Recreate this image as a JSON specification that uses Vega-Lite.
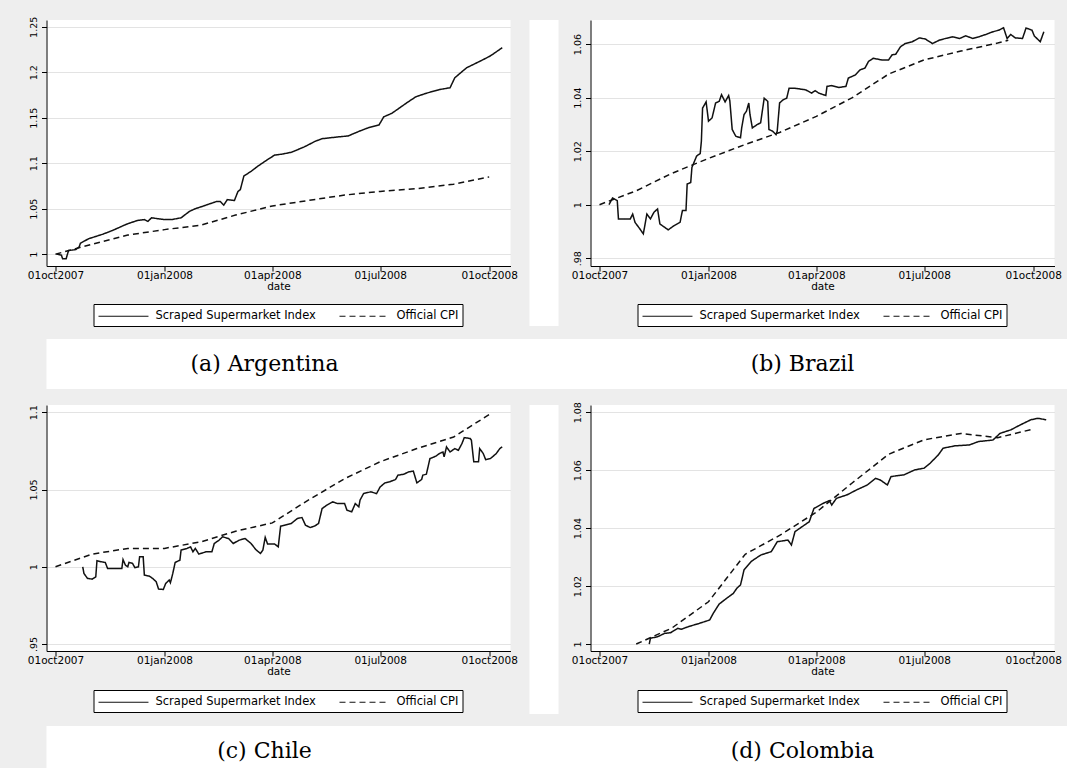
{
  "$schema": "https://vega.github.io/schema/vega-lite/v6.json",
  "background": "#eeeeee",
  "padding": {"left": 26.5, "top": 16, "right": 0, "bottom": 0},
  "columns": 1,
  "align": "none",
  "spacing": 12,
  "resolve": {"scale": {"strokeDash": "independent"}, "legend": {"strokeDash": "independent"}},
  "datasets": {
    "arg_s": [
      {"date": "2007-10-02", "value": 1.000}, {"date": "2007-10-06", "value": 0.999}, {"date": "2007-10-07", "value": 0.995},
      {"date": "2007-10-10", "value": 0.995}, {"date": "2007-10-12", "value": 1.004}, {"date": "2007-10-18", "value": 1.005},
      {"date": "2007-10-21", "value": 1.008}, {"date": "2007-10-22", "value": 1.012}, {"date": "2007-10-29", "value": 1.017},
      {"date": "2007-11-10", "value": 1.022}, {"date": "2007-11-18", "value": 1.026}, {"date": "2007-11-30", "value": 1.033},
      {"date": "2007-12-09", "value": 1.037}, {"date": "2007-12-15", "value": 1.038}, {"date": "2007-12-18", "value": 1.036},
      {"date": "2007-12-21", "value": 1.040}, {"date": "2008-01-01", "value": 1.038}, {"date": "2008-01-07", "value": 1.038},
      {"date": "2008-01-15", "value": 1.040}, {"date": "2008-01-22", "value": 1.047}, {"date": "2008-01-27", "value": 1.050},
      {"date": "2008-02-03", "value": 1.053}, {"date": "2008-02-14", "value": 1.058}, {"date": "2008-02-17", "value": 1.058},
      {"date": "2008-02-20", "value": 1.054}, {"date": "2008-02-23", "value": 1.060}, {"date": "2008-02-29", "value": 1.059},
      {"date": "2008-03-03", "value": 1.069}, {"date": "2008-03-05", "value": 1.071}, {"date": "2008-03-08", "value": 1.086},
      {"date": "2008-03-14", "value": 1.091}, {"date": "2008-03-20", "value": 1.097}, {"date": "2008-03-28", "value": 1.104},
      {"date": "2008-04-03", "value": 1.109}, {"date": "2008-04-09", "value": 1.110}, {"date": "2008-04-17", "value": 1.112},
      {"date": "2008-04-28", "value": 1.118}, {"date": "2008-05-07", "value": 1.124}, {"date": "2008-05-13", "value": 1.127},
      {"date": "2008-05-27", "value": 1.129}, {"date": "2008-06-04", "value": 1.130}, {"date": "2008-06-13", "value": 1.135},
      {"date": "2008-06-21", "value": 1.139}, {"date": "2008-06-30", "value": 1.142}, {"date": "2008-07-04", "value": 1.151},
      {"date": "2008-07-11", "value": 1.155}, {"date": "2008-07-23", "value": 1.166}, {"date": "2008-07-31", "value": 1.173},
      {"date": "2008-08-09", "value": 1.177}, {"date": "2008-08-20", "value": 1.181}, {"date": "2008-08-29", "value": 1.183},
      {"date": "2008-09-02", "value": 1.194}, {"date": "2008-09-12", "value": 1.205}, {"date": "2008-09-23", "value": 1.212},
      {"date": "2008-10-02", "value": 1.218}, {"date": "2008-10-12", "value": 1.227}
    ],
    "arg_c": [
      {"date": "2007-10-01", "value": 1.000}, {"date": "2007-11-01", "value": 1.011}, {"date": "2007-12-01", "value": 1.021},
      {"date": "2008-01-01", "value": 1.027}, {"date": "2008-02-01", "value": 1.032}, {"date": "2008-03-01", "value": 1.043},
      {"date": "2008-04-01", "value": 1.053}, {"date": "2008-05-01", "value": 1.059}, {"date": "2008-06-01", "value": 1.065},
      {"date": "2008-07-01", "value": 1.069}, {"date": "2008-08-01", "value": 1.072}, {"date": "2008-09-01", "value": 1.077},
      {"date": "2008-10-01", "value": 1.085}
    ],
    "bra_s": [
      {"date": "2007-10-09", "value": 1.0000}, {"date": "2007-10-12", "value": 1.0025}, {"date": "2007-10-16", "value": 1.0015},
      {"date": "2007-10-17", "value": 0.9947}, {"date": "2007-10-27", "value": 0.9947}, {"date": "2007-10-29", "value": 0.9965},
      {"date": "2007-10-31", "value": 0.9934}, {"date": "2007-11-04", "value": 0.9910}, {"date": "2007-11-07", "value": 0.9891},
      {"date": "2007-11-10", "value": 0.9965}, {"date": "2007-11-13", "value": 0.9947}, {"date": "2007-11-16", "value": 0.9972},
      {"date": "2007-11-19", "value": 0.9984}, {"date": "2007-11-21", "value": 0.9928}, {"date": "2007-11-28", "value": 0.9906},
      {"date": "2007-12-03", "value": 0.9922}, {"date": "2007-12-08", "value": 0.9934}, {"date": "2007-12-10", "value": 0.9978},
      {"date": "2007-12-13", "value": 0.9978}, {"date": "2007-12-14", "value": 1.0077}, {"date": "2007-12-17", "value": 1.0083},
      {"date": "2007-12-18", "value": 1.0139}, {"date": "2007-12-22", "value": 1.0182}, {"date": "2007-12-25", "value": 1.0191},
      {"date": "2007-12-26", "value": 1.0238}, {"date": "2007-12-27", "value": 1.0361}, {"date": "2007-12-30", "value": 1.0384},
      {"date": "2008-01-01", "value": 1.0312}, {"date": "2008-01-04", "value": 1.0324}, {"date": "2008-01-07", "value": 1.0380},
      {"date": "2008-01-10", "value": 1.0386}, {"date": "2008-01-12", "value": 1.0411}, {"date": "2008-01-15", "value": 1.0384},
      {"date": "2008-01-18", "value": 1.0408}, {"date": "2008-01-19", "value": 1.0388}, {"date": "2008-01-21", "value": 1.0281},
      {"date": "2008-01-24", "value": 1.0256}, {"date": "2008-01-28", "value": 1.0250}, {"date": "2008-01-29", "value": 1.0287},
      {"date": "2008-01-31", "value": 1.0337}, {"date": "2008-02-02", "value": 1.0349}, {"date": "2008-02-04", "value": 1.0380},
      {"date": "2008-02-05", "value": 1.0337}, {"date": "2008-02-07", "value": 1.0287}, {"date": "2008-02-11", "value": 1.0299},
      {"date": "2008-02-14", "value": 1.0306}, {"date": "2008-02-17", "value": 1.0398}, {"date": "2008-02-20", "value": 1.0386},
      {"date": "2008-02-21", "value": 1.0281}, {"date": "2008-02-24", "value": 1.0275}, {"date": "2008-02-27", "value": 1.0262},
      {"date": "2008-02-28", "value": 1.0275}, {"date": "2008-03-01", "value": 1.0380}, {"date": "2008-03-04", "value": 1.0392},
      {"date": "2008-03-07", "value": 1.0398}, {"date": "2008-03-09", "value": 1.0435}, {"date": "2008-03-14", "value": 1.0435},
      {"date": "2008-03-23", "value": 1.0429}, {"date": "2008-03-28", "value": 1.0417}, {"date": "2008-03-31", "value": 1.0426},
      {"date": "2008-04-03", "value": 1.0417}, {"date": "2008-04-09", "value": 1.0408}, {"date": "2008-04-10", "value": 1.0442},
      {"date": "2008-04-14", "value": 1.0445}, {"date": "2008-04-20", "value": 1.0438}, {"date": "2008-04-26", "value": 1.0442},
      {"date": "2008-04-28", "value": 1.0473}, {"date": "2008-05-04", "value": 1.0485}, {"date": "2008-05-08", "value": 1.0504},
      {"date": "2008-05-12", "value": 1.0510}, {"date": "2008-05-15", "value": 1.0535}, {"date": "2008-05-19", "value": 1.0547},
      {"date": "2008-05-26", "value": 1.0541}, {"date": "2008-06-01", "value": 1.0541}, {"date": "2008-06-04", "value": 1.0560},
      {"date": "2008-06-07", "value": 1.0562}, {"date": "2008-06-11", "value": 1.0590}, {"date": "2008-06-15", "value": 1.0602},
      {"date": "2008-06-21", "value": 1.0609}, {"date": "2008-06-27", "value": 1.0623}, {"date": "2008-07-02", "value": 1.0619},
      {"date": "2008-07-08", "value": 1.0602}, {"date": "2008-07-14", "value": 1.0615}, {"date": "2008-07-19", "value": 1.0621},
      {"date": "2008-07-25", "value": 1.0627}, {"date": "2008-07-31", "value": 1.0621}, {"date": "2008-08-05", "value": 1.0631},
      {"date": "2008-08-11", "value": 1.0621}, {"date": "2008-08-16", "value": 1.0627}, {"date": "2008-08-22", "value": 1.0636},
      {"date": "2008-08-28", "value": 1.0646}, {"date": "2008-09-02", "value": 1.0652}, {"date": "2008-09-06", "value": 1.0661},
      {"date": "2008-09-09", "value": 1.0621}, {"date": "2008-09-12", "value": 1.0636}, {"date": "2008-09-16", "value": 1.0623},
      {"date": "2008-09-22", "value": 1.0621}, {"date": "2008-09-25", "value": 1.0660}, {"date": "2008-09-30", "value": 1.0652},
      {"date": "2008-10-02", "value": 1.0630}, {"date": "2008-10-07", "value": 1.0609}, {"date": "2008-10-10", "value": 1.0646}
    ],
    "bra_c": [
      {"date": "2007-10-01", "value": 1.0000}, {"date": "2007-11-01", "value": 1.0052}, {"date": "2007-12-01", "value": 1.0117},
      {"date": "2008-01-01", "value": 1.0173}, {"date": "2008-02-01", "value": 1.0225}, {"date": "2008-03-01", "value": 1.0270},
      {"date": "2008-04-01", "value": 1.0330}, {"date": "2008-05-01", "value": 1.0399}, {"date": "2008-06-01", "value": 1.0488},
      {"date": "2008-07-01", "value": 1.0541}, {"date": "2008-08-01", "value": 1.0574}, {"date": "2008-09-01", "value": 1.0604},
      {"date": "2008-09-10", "value": 1.0614}
    ],
    "chl_s": [
      {"date": "2007-10-24", "value": 1.0000}, {"date": "2007-10-25", "value": 0.9957}, {"date": "2007-10-28", "value": 0.9925},
      {"date": "2007-11-01", "value": 0.9920}, {"date": "2007-11-04", "value": 0.9935}, {"date": "2007-11-05", "value": 1.0039},
      {"date": "2007-11-09", "value": 1.0032}, {"date": "2007-11-12", "value": 1.0028}, {"date": "2007-11-14", "value": 0.9989},
      {"date": "2007-11-22", "value": 0.9989}, {"date": "2007-11-26", "value": 0.9989}, {"date": "2007-11-27", "value": 1.0047},
      {"date": "2007-11-29", "value": 1.0011}, {"date": "2007-12-01", "value": 1.0000}, {"date": "2007-12-02", "value": 1.0028},
      {"date": "2007-12-05", "value": 1.0022}, {"date": "2007-12-07", "value": 0.9994}, {"date": "2007-12-10", "value": 1.0000},
      {"date": "2007-12-11", "value": 1.0065}, {"date": "2007-12-14", "value": 1.0065}, {"date": "2007-12-15", "value": 0.9946},
      {"date": "2007-12-19", "value": 0.9940}, {"date": "2007-12-22", "value": 0.9925}, {"date": "2007-12-25", "value": 0.9903},
      {"date": "2007-12-27", "value": 0.9856}, {"date": "2007-12-31", "value": 0.9853}, {"date": "2008-01-02", "value": 0.9892},
      {"date": "2008-01-05", "value": 0.9914}, {"date": "2008-01-06", "value": 0.9897}, {"date": "2008-01-08", "value": 0.9957},
      {"date": "2008-01-10", "value": 1.0028}, {"date": "2008-01-14", "value": 1.0043}, {"date": "2008-01-15", "value": 1.0108},
      {"date": "2008-01-20", "value": 1.0119}, {"date": "2008-01-23", "value": 1.0129}, {"date": "2008-01-25", "value": 1.0097},
      {"date": "2008-01-27", "value": 1.0119}, {"date": "2008-01-30", "value": 1.0082}, {"date": "2008-02-05", "value": 1.0097},
      {"date": "2008-02-10", "value": 1.0097}, {"date": "2008-02-12", "value": 1.0151}, {"date": "2008-02-16", "value": 1.0172},
      {"date": "2008-02-19", "value": 1.0194}, {"date": "2008-02-24", "value": 1.0183}, {"date": "2008-02-28", "value": 1.0151},
      {"date": "2008-03-04", "value": 1.0172}, {"date": "2008-03-09", "value": 1.0183}, {"date": "2008-03-14", "value": 1.0151},
      {"date": "2008-03-18", "value": 1.0112}, {"date": "2008-03-22", "value": 1.0086}, {"date": "2008-03-24", "value": 1.0108},
      {"date": "2008-03-26", "value": 1.0190}, {"date": "2008-03-28", "value": 1.0147}, {"date": "2008-04-03", "value": 1.0147},
      {"date": "2008-04-06", "value": 1.0129}, {"date": "2008-04-08", "value": 1.0263}, {"date": "2008-04-17", "value": 1.0280},
      {"date": "2008-04-22", "value": 1.0312}, {"date": "2008-04-26", "value": 1.0319}, {"date": "2008-04-29", "value": 1.0269},
      {"date": "2008-05-03", "value": 1.0254}, {"date": "2008-05-07", "value": 1.0265}, {"date": "2008-05-10", "value": 1.0280},
      {"date": "2008-05-13", "value": 1.0377}, {"date": "2008-05-17", "value": 1.0399}, {"date": "2008-05-22", "value": 1.0420},
      {"date": "2008-05-26", "value": 1.0409}, {"date": "2008-06-01", "value": 1.0409}, {"date": "2008-06-03", "value": 1.0366},
      {"date": "2008-06-07", "value": 1.0356}, {"date": "2008-06-10", "value": 1.0409}, {"date": "2008-06-13", "value": 1.0388},
      {"date": "2008-06-14", "value": 1.0431}, {"date": "2008-06-17", "value": 1.0474}, {"date": "2008-06-23", "value": 1.0485},
      {"date": "2008-06-28", "value": 1.0474}, {"date": "2008-07-01", "value": 1.0517}, {"date": "2008-07-05", "value": 1.0543},
      {"date": "2008-07-09", "value": 1.0550}, {"date": "2008-07-14", "value": 1.0565}, {"date": "2008-07-16", "value": 1.0593},
      {"date": "2008-07-21", "value": 1.0599}, {"date": "2008-07-25", "value": 1.0614}, {"date": "2008-07-29", "value": 1.0619},
      {"date": "2008-08-01", "value": 1.0543}, {"date": "2008-08-05", "value": 1.0565}, {"date": "2008-08-06", "value": 1.0593},
      {"date": "2008-08-09", "value": 1.0599}, {"date": "2008-08-12", "value": 1.0700}, {"date": "2008-08-17", "value": 1.0716},
      {"date": "2008-08-20", "value": 1.0733}, {"date": "2008-08-23", "value": 1.0743}, {"date": "2008-08-24", "value": 1.0711},
      {"date": "2008-08-26", "value": 1.0776}, {"date": "2008-08-29", "value": 1.0743}, {"date": "2008-09-02", "value": 1.0765},
      {"date": "2008-09-05", "value": 1.0754}, {"date": "2008-09-08", "value": 1.0797}, {"date": "2008-09-10", "value": 1.0836},
      {"date": "2008-09-15", "value": 1.0830}, {"date": "2008-09-16", "value": 1.0819}, {"date": "2008-09-18", "value": 1.0679},
      {"date": "2008-09-22", "value": 1.0679}, {"date": "2008-09-23", "value": 1.0765}, {"date": "2008-09-26", "value": 1.0733},
      {"date": "2008-09-28", "value": 1.0694}, {"date": "2008-10-02", "value": 1.0700}, {"date": "2008-10-07", "value": 1.0733},
      {"date": "2008-10-10", "value": 1.0765}, {"date": "2008-10-12", "value": 1.0776}
    ],
    "chl_c": [
      {"date": "2007-10-01", "value": 1.0000}, {"date": "2007-11-01", "value": 1.0082}, {"date": "2007-12-01", "value": 1.0119},
      {"date": "2008-01-01", "value": 1.0119}, {"date": "2008-02-01", "value": 1.0162}, {"date": "2008-03-01", "value": 1.0230},
      {"date": "2008-04-01", "value": 1.0284}, {"date": "2008-05-01", "value": 1.0430}, {"date": "2008-06-01", "value": 1.0570},
      {"date": "2008-07-01", "value": 1.0680}, {"date": "2008-08-01", "value": 1.0765}, {"date": "2008-09-01", "value": 1.0840},
      {"date": "2008-10-01", "value": 1.0985}
    ],
    "col_s": [
      {"date": "2007-11-12", "value": 1.0000}, {"date": "2007-11-13", "value": 1.0020}, {"date": "2007-11-19", "value": 1.0025},
      {"date": "2007-11-25", "value": 1.0037}, {"date": "2007-11-30", "value": 1.0039}, {"date": "2007-12-06", "value": 1.0054},
      {"date": "2007-12-09", "value": 1.0051}, {"date": "2007-12-15", "value": 1.0060}, {"date": "2007-12-24", "value": 1.0071},
      {"date": "2008-01-02", "value": 1.0083}, {"date": "2008-01-05", "value": 1.0106}, {"date": "2008-01-10", "value": 1.0138},
      {"date": "2008-01-16", "value": 1.0157}, {"date": "2008-01-22", "value": 1.0175}, {"date": "2008-01-25", "value": 1.0193},
      {"date": "2008-01-28", "value": 1.0204}, {"date": "2008-01-29", "value": 1.0221}, {"date": "2008-01-31", "value": 1.0256},
      {"date": "2008-02-06", "value": 1.0285}, {"date": "2008-02-14", "value": 1.0307}, {"date": "2008-02-23", "value": 1.0319},
      {"date": "2008-02-28", "value": 1.0353}, {"date": "2008-03-08", "value": 1.0359}, {"date": "2008-03-11", "value": 1.0342},
      {"date": "2008-03-14", "value": 1.0388}, {"date": "2008-03-20", "value": 1.0405}, {"date": "2008-03-26", "value": 1.0422},
      {"date": "2008-03-30", "value": 1.0468}, {"date": "2008-04-07", "value": 1.0486}, {"date": "2008-04-12", "value": 1.0495},
      {"date": "2008-04-14", "value": 1.0480}, {"date": "2008-04-18", "value": 1.0503}, {"date": "2008-04-27", "value": 1.0515},
      {"date": "2008-05-05", "value": 1.0532}, {"date": "2008-05-14", "value": 1.0549}, {"date": "2008-05-21", "value": 1.0572},
      {"date": "2008-05-25", "value": 1.0566}, {"date": "2008-05-31", "value": 1.0549}, {"date": "2008-06-03", "value": 1.0578},
      {"date": "2008-06-14", "value": 1.0584}, {"date": "2008-06-23", "value": 1.0601}, {"date": "2008-07-01", "value": 1.0607},
      {"date": "2008-07-06", "value": 1.0624}, {"date": "2008-07-13", "value": 1.0653}, {"date": "2008-07-17", "value": 1.0676},
      {"date": "2008-07-27", "value": 1.0684}, {"date": "2008-08-08", "value": 1.0687}, {"date": "2008-08-16", "value": 1.0699},
      {"date": "2008-08-28", "value": 1.0704}, {"date": "2008-09-03", "value": 1.0727}, {"date": "2008-09-12", "value": 1.0739},
      {"date": "2008-09-20", "value": 1.0756}, {"date": "2008-09-29", "value": 1.0774}, {"date": "2008-10-05", "value": 1.0779},
      {"date": "2008-10-12", "value": 1.0774}
    ],
    "col_c": [
      {"date": "2007-11-01", "value": 1.0000}, {"date": "2007-12-01", "value": 1.0055}, {"date": "2008-01-01", "value": 1.0146},
      {"date": "2008-02-01", "value": 1.0310}, {"date": "2008-03-01", "value": 1.0375}, {"date": "2008-04-01", "value": 1.0455},
      {"date": "2008-05-01", "value": 1.0555}, {"date": "2008-06-01", "value": 1.0655}, {"date": "2008-07-01", "value": 1.0705},
      {"date": "2008-08-01", "value": 1.0727}, {"date": "2008-09-01", "value": 1.0712}, {"date": "2008-10-01", "value": 1.0742}
    ]
  },
  "concat": [
    {
      "spacing": 12,
      "resolve": {"scale": {"strokeDash": "independent"}, "legend": {"strokeDash": "independent"}},
      "hconcat": [
        {
          "width": 464, "height": 246,
          "encoding": {
            "x": {"field": "date", "type": "temporal",
              "scale": {"type": "utc", "domain": [{"year": 2007, "month": 9, "date": 23, "hours": 10, "utc": true}, {"year": 2008, "month": 10, "date": 19, "utc": true}]},
              "axis": {"title": "date", "values": [{"year": 2007, "month": 10, "date": 1, "utc": true}, {"year": 2008, "month": 1, "date": 1, "utc": true}, {"year": 2008, "month": 4, "date": 1, "utc": true}, {"year": 2008, "month": 7, "date": 1, "utc": true}, {"year": 2008, "month": 10, "date": 1, "utc": true}], "labelExpr": "lower(utcFormat(datum.value, '%d%b%Y'))"}},
            "y": {"field": "value", "type": "quantitative",
              "scale": {"domain": [0.987, 1.2575], "nice": false, "zero": false},
              "axis": {"title": null, "values": [1, 1.05, 1.1, 1.15, 1.2, 1.25], "labelExpr": "datum.value < 1 ? substring(format(datum.value, '.2~f'), 1) : format(datum.value, '.2~f')"}}
          },
          "layer": [
            {"data": {"name": "arg_s"}, "mark": {"type": "line", "color": "#111111", "strokeWidth": 1.5},
              "encoding": {"strokeDash": {"datum": "Scraped Supermarket Index", "type": "nominal",
                "scale": {"domain": ["Scraped Supermarket Index", "Official CPI"], "range": [[1, 0], [6, 4]]},
                "legend": {"title": null, "orient": "none", "legendX": 47, "legendY": 284}}}},
            {"data": {"name": "arg_c"}, "mark": {"type": "line", "color": "#111111", "strokeWidth": 1.5},
              "encoding": {"strokeDash": {"datum": "Official CPI", "type": "nominal"}}}
          ]
        },
        {"width": 29, "height": 306, "view": {"fill": "white", "stroke": null},
          "data": {"values": [{"blank": ""}]}, "mark": {"type": "text"}, "encoding": {"text": {"field": "blank"}}},
        {
          "width": 464, "height": 246,
          "encoding": {
            "x": {"field": "date", "type": "temporal",
              "scale": {"type": "utc", "domain": [{"year": 2007, "month": 9, "date": 23, "hours": 10, "utc": true}, {"year": 2008, "month": 10, "date": 19, "utc": true}]},
              "axis": {"title": "date", "values": [{"year": 2007, "month": 10, "date": 1, "utc": true}, {"year": 2008, "month": 1, "date": 1, "utc": true}, {"year": 2008, "month": 4, "date": 1, "utc": true}, {"year": 2008, "month": 7, "date": 1, "utc": true}, {"year": 2008, "month": 10, "date": 1, "utc": true}], "labelExpr": "lower(utcFormat(datum.value, '%d%b%Y'))"}},
            "y": {"field": "value", "type": "quantitative",
              "scale": {"domain": [0.9771, 1.069], "nice": false, "zero": false},
              "axis": {"title": null, "values": [0.98, 1, 1.02, 1.04, 1.06], "labelExpr": "datum.value < 1 ? substring(format(datum.value, '.2~f'), 1) : format(datum.value, '.2~f')"}}
          },
          "layer": [
            {"data": {"name": "bra_s"}, "mark": {"type": "line", "color": "#111111", "strokeWidth": 1.5},
              "encoding": {"strokeDash": {"datum": "Scraped Supermarket Index", "type": "nominal",
                "scale": {"domain": ["Scraped Supermarket Index", "Official CPI"], "range": [[1, 0], [6, 4]]},
                "legend": {"title": null, "orient": "none", "legendX": 47, "legendY": 284}}}},
            {"data": {"name": "bra_c"}, "mark": {"type": "line", "color": "#111111", "strokeWidth": 1.5},
              "encoding": {"strokeDash": {"datum": "Official CPI", "type": "nominal"}}}
          ]
        }
      ]
    },
    {
      "width": 1021, "height": 50,
      "data": {"values": [{"caption": "(a) Argentina"}, {"caption": "(b) Brazil"}]},
      "mark": {"type": "text", "font": "DejaVu Serif", "fontSize": 22, "color": "#000000"},
      "encoding": {
        "x": {"field": "caption", "type": "nominal", "sort": null, "axis": null,
          "scale": {"type": "band", "paddingInner": 0.1896, "paddingOuter": 0.0437, "align": 0}},
        "text": {"field": "caption"}
      }
    },
    {
      "spacing": 12,
      "resolve": {"scale": {"strokeDash": "independent"}, "legend": {"strokeDash": "independent"}},
      "hconcat": [
        {
          "width": 464, "height": 246,
          "encoding": {
            "x": {"field": "date", "type": "temporal",
              "scale": {"type": "utc", "domain": [{"year": 2007, "month": 9, "date": 23, "hours": 10, "utc": true}, {"year": 2008, "month": 10, "date": 19, "utc": true}]},
              "axis": {"title": "date", "values": [{"year": 2007, "month": 10, "date": 1, "utc": true}, {"year": 2008, "month": 1, "date": 1, "utc": true}, {"year": 2008, "month": 4, "date": 1, "utc": true}, {"year": 2008, "month": 7, "date": 1, "utc": true}, {"year": 2008, "month": 10, "date": 1, "utc": true}], "labelExpr": "lower(utcFormat(datum.value, '%d%b%Y'))"}},
            "y": {"field": "value", "type": "quantitative",
              "scale": {"domain": [0.9455, 1.1047], "nice": false, "zero": false},
              "axis": {"title": null, "values": [0.95, 1, 1.05, 1.1], "labelExpr": "datum.value < 1 ? substring(format(datum.value, '.2~f'), 1) : format(datum.value, '.2~f')"}}
          },
          "layer": [
            {"data": {"name": "chl_s"}, "mark": {"type": "line", "color": "#111111", "strokeWidth": 1.5},
              "encoding": {"strokeDash": {"datum": "Scraped Supermarket Index", "type": "nominal",
                "scale": {"domain": ["Scraped Supermarket Index", "Official CPI"], "range": [[1, 0], [6, 4]]},
                "legend": {"title": null, "orient": "none", "legendX": 47, "legendY": 285}}}},
            {"data": {"name": "chl_c"}, "mark": {"type": "line", "color": "#111111", "strokeWidth": 1.5},
              "encoding": {"strokeDash": {"datum": "Official CPI", "type": "nominal"}}}
          ]
        },
        {"width": 29, "height": 309, "view": {"fill": "white", "stroke": null},
          "data": {"values": [{"blank": ""}]}, "mark": {"type": "text"}, "encoding": {"text": {"field": "blank"}}},
        {
          "width": 464, "height": 246,
          "encoding": {
            "x": {"field": "date", "type": "temporal",
              "scale": {"type": "utc", "domain": [{"year": 2007, "month": 9, "date": 23, "hours": 10, "utc": true}, {"year": 2008, "month": 10, "date": 19, "utc": true}]},
              "axis": {"title": "date", "values": [{"year": 2007, "month": 10, "date": 1, "utc": true}, {"year": 2008, "month": 1, "date": 1, "utc": true}, {"year": 2008, "month": 4, "date": 1, "utc": true}, {"year": 2008, "month": 7, "date": 1, "utc": true}, {"year": 2008, "month": 10, "date": 1, "utc": true}], "labelExpr": "lower(utcFormat(datum.value, '%d%b%Y'))"}},
            "y": {"field": "value", "type": "quantitative",
              "scale": {"domain": [0.9976, 1.0825], "nice": false, "zero": false},
              "axis": {"title": null, "values": [1, 1.02, 1.04, 1.06, 1.08], "labelExpr": "datum.value < 1 ? substring(format(datum.value, '.2~f'), 1) : format(datum.value, '.2~f')"}}
          },
          "layer": [
            {"data": {"name": "col_s"}, "mark": {"type": "line", "color": "#111111", "strokeWidth": 1.5},
              "encoding": {"strokeDash": {"datum": "Scraped Supermarket Index", "type": "nominal",
                "scale": {"domain": ["Scraped Supermarket Index", "Official CPI"], "range": [[1, 0], [6, 4]]},
                "legend": {"title": null, "orient": "none", "legendX": 47, "legendY": 285}}}},
            {"data": {"name": "col_c"}, "mark": {"type": "line", "color": "#111111", "strokeWidth": 1.5},
              "encoding": {"strokeDash": {"datum": "Official CPI", "type": "nominal"}}}
          ]
        }
      ]
    },
    {
      "width": 1021, "height": 50,
      "data": {"values": [{"caption": "(c) Chile"}, {"caption": "(d) Colombia"}]},
      "mark": {"type": "text", "font": "DejaVu Serif", "fontSize": 22, "color": "#000000"},
      "encoding": {
        "x": {"field": "caption", "type": "nominal", "sort": null, "axis": null,
          "scale": {"type": "band", "paddingInner": 0.1896, "paddingOuter": 0.0437, "align": 0}},
        "text": {"field": "caption"}
      }
    }
  ],
  "config": {
    "view": {"fill": "white", "stroke": null},
    "font": "DejaVu Sans",
    "axis": {"labelColor": "#000000", "domainColor": "#000000", "tickColor": "#000000", "titleColor": "#000000",
      "titleFontWeight": "normal", "tickSize": 5, "labelFlush": false, "labelOverlap": false, "labelFont": "DejaVu Sans", "titleFont": "DejaVu Sans"},
    "axisX": {"grid": false, "labelFontSize": 10.5, "titleFontSize": 10.5, "labelPadding": -1, "titlePadding": 1},
    "axisY": {"grid": true, "gridColor": "#e3e3e3", "labelAngle": -90, "labelFontSize": 9.5, "labelPadding": 3},
    "legend": {"direction": "horizontal", "fillColor": "white", "strokeColor": "#000000", "padding": 4,
      "symbolType": "M-1,0H6.14", "symbolSize": 196, "symbolStrokeWidth": 1.2, "symbolStrokeColor": "#111111",
      "labelFont": "DejaVu Sans", "labelFontSize": 11.5, "labelColor": "#000000", "labelOffset": 42, "columnPadding": 20, "labelLimit": 300}
  }
}
